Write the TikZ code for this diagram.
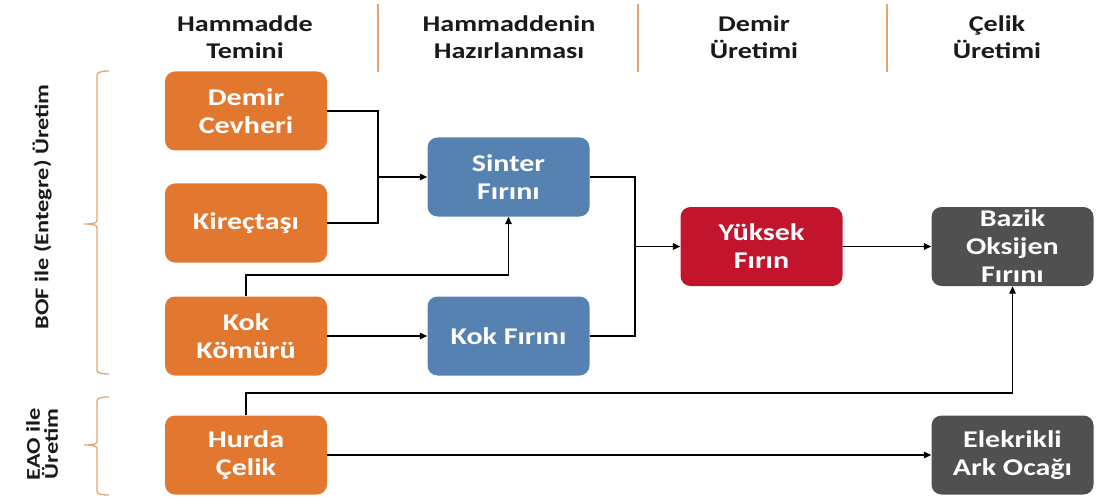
\documentclass[tikz,border=0pt]{standalone}
\usepackage{fontspec}
\setmainfont{Carlito}[FakeStretch=1.25]
\usetikzlibrary{arrows.meta}
\definecolor{borange}{HTML}{E2782F}
\definecolor{bblue}{HTML}{5582B1}
\definecolor{bred}{HTML}{C3142D}
\definecolor{bgray}{HTML}{505050}
\definecolor{sepc}{HTML}{E4A670}
\definecolor{htext}{HTML}{1A1A1A}
\begin{document}
\begin{tikzpicture}[x=1pt,y=-1pt,
  box/.style={rounded corners=10pt, minimum width=162pt, minimum height=79pt,
    inner sep=1pt, text=white, align=center,
    font=\bfseries\fontsize{24}{28}\selectfont},
  obox/.style={box, fill=borange},
  bbox/.style={box, fill=bblue},
  rbox/.style={box, fill=bred},
  gbox/.style={box, fill=bgray},
  head/.style={align=center, text=htext, inner sep=0pt,
    font=\bfseries\fontsize{22.5}{27}\selectfont},
  side/.style={align=center, text=htext, inner sep=0pt, rotate=90,
    font=\bfseries\fontsize{19.5}{18}\selectfont},
  sepline/.style={draw=sepc, line width=1.8pt},
  brk/.style={draw=sepc, line width=1.3pt},
  conn/.style={draw=black, line width=1.4pt},
  arr/.style={conn, -{Triangle[length=7.5pt,width=6.5pt]}}
]
\useasboundingbox (0,0) rectangle (1102,497);

% headers
\node[head] (h1) at (245,37) {Hammadde\\Temini};
\node[head] (h2) at (509,37) {Hammaddenin\\Hazırlanması};
\node[head] (h3) at (754,37) {Demir\\Üretimi};
\node[head] (h4) at (997,37) {Çelik\\Üretimi};
\draw[sepline] (378,4) -- (378,72);
\draw[sepline] (638,4) -- (638,72);
\draw[sepline] (887,4) -- (887,72);

% side labels and brackets
\node[side] (l1) at (42,207) {BOF ile (Entegre) Üretim};
\node[side] (l2) at (42,444) {EAO ile\\Üretim};
\draw[brk] (109,71) .. controls (101,71) and (97,72) .. (97,76) -- (97,220)
  .. controls (97,223) and (94,224) .. (84,224)
  .. controls (94,224) and (97,225) .. (97,228) -- (97,370)
  .. controls (97,373) and (101,374) .. (109,374);
\draw[brk] (109,397) .. controls (101,397) and (97,398) .. (97,401) -- (97,441)
  .. controls (97,444) and (94,445) .. (84,445)
  .. controls (94,445) and (97,446) .. (97,449) -- (97,491)
  .. controls (97,494) and (101,495) .. (109,495);

% boxes
\node[obox] (dc) at (246,111) {Demir\\Cevheri};
\node[obox] (kt) at (246,223) {Kireçtaşı};
\node[obox] (kk) at (246,336) {Kok\\Kömürü};
\node[obox] (hc) at (246,455) {Hurda\\Çelik};
\node[bbox] (sf) at (508.5,177) {Sinter\\Fırını};
\node[bbox] (kf) at (508.5,336) {Kok Fırını};
\node[rbox] (yf) at (761.5,246.5) {Yüksek\\Fırın};
\node[gbox] (bo) at (1012.5,246.5) {Bazik\\Oksijen\\Fırını};
\node[gbox] (ea) at (1012.5,455) {Elekrikli\\Ark Ocağı};

% connectors
\coordinate (j1) at (378,177);
\draw[conn] (dc.east) -| (j1);
\draw[conn] (kt.east) -| (j1);
\draw[arr] (j1) -- (sf.west);

\coordinate (k1) at (246,275);
\draw[arr] (kk.north) -- (k1) -| (sf.south);
\draw[arr] (kk.east) -- (kf.west);

\coordinate (j2) at (635,246.5);
\draw[conn] (sf.east) -| (j2);
\draw[conn] (kf.east) -| (j2);
\draw[arr] (j2) -- (yf.west);
\draw[arr] (yf.east) -- (bo.west);

\coordinate (q1) at (246,393);
\draw[arr] (hc.north) -- (q1) -| (bo.south);
\draw[arr] (hc.east) -- (ea.west);
\end{tikzpicture}
\end{document}
